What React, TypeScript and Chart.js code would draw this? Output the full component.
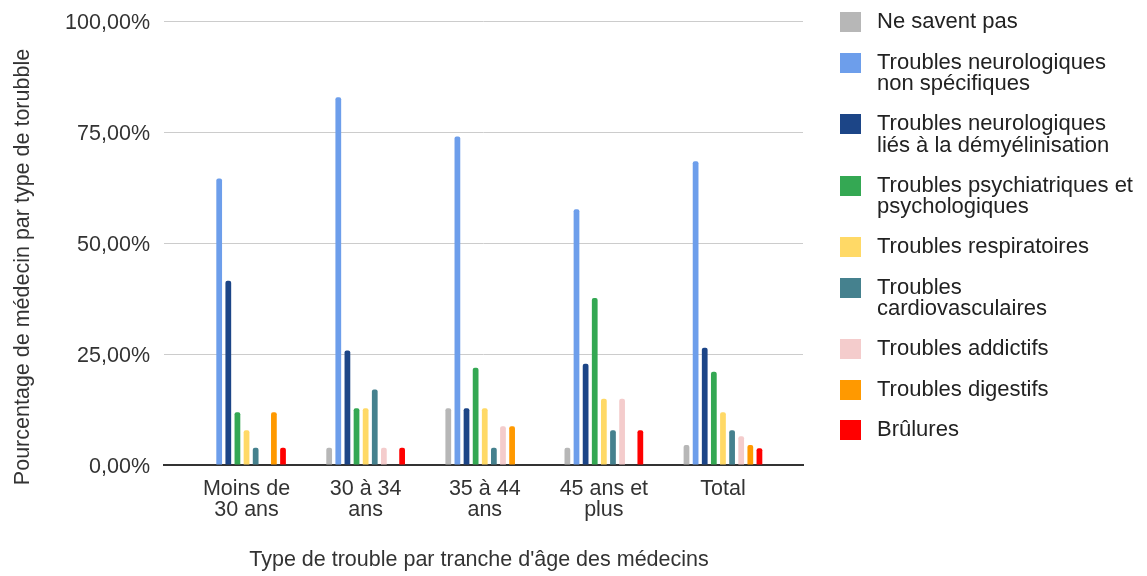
import React, { useEffect, useRef } from "react";
import { Chart, registerables } from "chart.js";

Chart.register(...registerables);

const categories = ["Moins de 30 ans", "30 à 34 ans", "35 à 44 ans", "45 ans et plus", "Total"];
const categoryLines = [["Moins de", "30 ans"], ["30 à 34", "ans"], ["35 à 44", "ans"], ["45 ans et", "plus"], ["Total"]];

const seriesNames = [
  "Ne savent pas",
  "Troubles neurologiques\nnon spécifiques",
  "Troubles neurologiques\nliés à la démyélinisation",
  "Troubles psychiatriques et\npsychologiques",
  "Troubles respiratoires",
  "Troubles\ncardiovasculaires",
  "Troubles addictifs",
  "Troubles digestifs",
  "Brûlures",
];
const seriesColors = ["#b7b7b7", "#6d9eeb", "#1c4587", "#34a853", "#ffd966", "#45818e", "#f4cccc", "#ff9900", "#ff0000"];

// values per series, in category order
const neSaventPas = [0, 3.9, 12.8, 3.9, 4.5];
const neuroNonSpec = [64.5, 82.8, 74.0, 57.6, 68.4];
const neuroDemyel = [41.5, 25.8, 12.8, 22.8, 26.4];
const psy = [11.9, 12.8, 21.9, 37.6, 21.0];
const respiratoires = [7.8, 12.8, 12.8, 14.9, 11.9];
const cardio = [3.9, 17.0, 3.9, 7.8, 7.8];
const addictifs = [0, 3.9, 8.7, 14.9, 6.5];
const digestifs = [11.9, 0, 8.7, 0, 4.5];
const brulures = [3.9, 3.9, 0, 7.8, 3.8];

const seriesValues = [neSaventPas, neuroNonSpec, neuroDemyel, psy, respiratoires, cardio, addictifs, digestifs, brulures];

const yTicks = [0, 25, 50, 75, 100];
const xTitle = "Type de trouble par tranche d'âge des médecins";
const yTitle = "Pourcentage de médecin par type de torubble";

const FONT = "'Liberation Sans', Arial, sans-serif";
const TEXT = "#333333";

export default function App() {
  const ref = useRef<HTMLCanvasElement | null>(null);

  useEffect(() => {
    if (!ref.current) return;
    const titlePlugin = {
      id: "titles",
      afterDraw(chart: any) {
        const ctx = chart.ctx;
        ctx.save();
        ctx.fillStyle = TEXT;
        ctx.font = `21.5px ${FONT}`;
        ctx.textAlign = "center";
        ctx.textBaseline = "middle";
        ctx.fillText(xTitle, 479, 560);
        ctx.translate(23.5, 267);
        ctx.rotate(-Math.PI / 2);
        ctx.fillText(yTitle, 0, 0);
        ctx.restore();
      },
    };
    const chart = new Chart(ref.current, {
      type: "bar",
      data: {
        datasets: seriesNames.map((name, s) => ({
          label: name.replace("\n", " "),
          data: seriesValues[s].map((v, i) => ({ x: i, y: v })),
          backgroundColor: seriesColors[s],
          borderWidth: 0,
          borderRadius: 2,
          categoryPercentage: 0.689,
          barPercentage: 0.63,
        })),
      },
      options: {
        animation: false,
        responsive: false,
        layout: { padding: { left: 0, top: 21, right: 344, bottom: 0 } },
        plugins: { legend: { display: false }, tooltip: { enabled: false } },
        scales: {
          x: {
            type: "linear",
            offset: false,
            min: -0.693,
            max: 4.672,
            grid: { display: false, drawTicks: false, offset: false },
            border: { display: true, color: "#333333", width: 2 },
            afterBuildTicks: (scale: any) => {
              scale.ticks = categories.map((_, i) => ({ value: i }));
            },
            afterFit: (scale: any) => {
              scale.height = 111;
            },
            ticks: {
              autoSkip: false,
              maxRotation: 0,
              padding: 14,
              color: TEXT,
              font: { family: FONT, size: 21.5, lineHeight: 0.95 },
              callback: (v: any) => categoryLines[v] ?? "",
            },
          },
          y: {
            min: 0,
            max: 100,
            afterBuildTicks: (scale: any) => {
              scale.ticks = yTicks.map((v) => ({ value: v }));
            },
            afterFit: (scale: any) => {
              scale.width = 164;
              scale.paddingTop = 0;
              scale.paddingBottom = 0;
            },
            grid: { color: "#cccccc", drawTicks: false, lineWidth: 1 },
            border: { display: false },
            ticks: {
              padding: 14,
              labelOffset: 2,
              color: TEXT,
              font: { family: FONT, size: 21.5, lineHeight: 0.8 },
              callback: (v: any) => Number(v).toFixed(2).replace(".", ",") + "%",
            },
          },
        },
      },
      plugins: [titlePlugin],
    });
    return () => chart.destroy();
  }, []);

  return (
    <div style={{ position: "absolute", left: 0, top: 0, width: 1147, height: 576, background: "#fff" }}>
      <canvas ref={ref} width={1147} height={576} style={{ position: "absolute", left: 0, top: 0 }} />
      <div
        style={{
          position: "absolute",
          left: 840,
          top: 10,
          display: "flex",
          flexDirection: "column",
          gap: "18.5px",
          fontFamily: FONT,
          fontSize: 22,
          lineHeight: "21.5px",
          color: "#222222",
        }}
      >
        {seriesNames.map((name, s) => (
          <div key={s} style={{ display: "flex", alignItems: "flex-start" }}>
            <div style={{ width: 21, height: 20, marginTop: 2, marginRight: 16, background: seriesColors[s], flex: "none" }} />
            <div style={{ whiteSpace: "pre-line" }}>{name}</div>
          </div>
        ))}
      </div>
    </div>
  );
}
